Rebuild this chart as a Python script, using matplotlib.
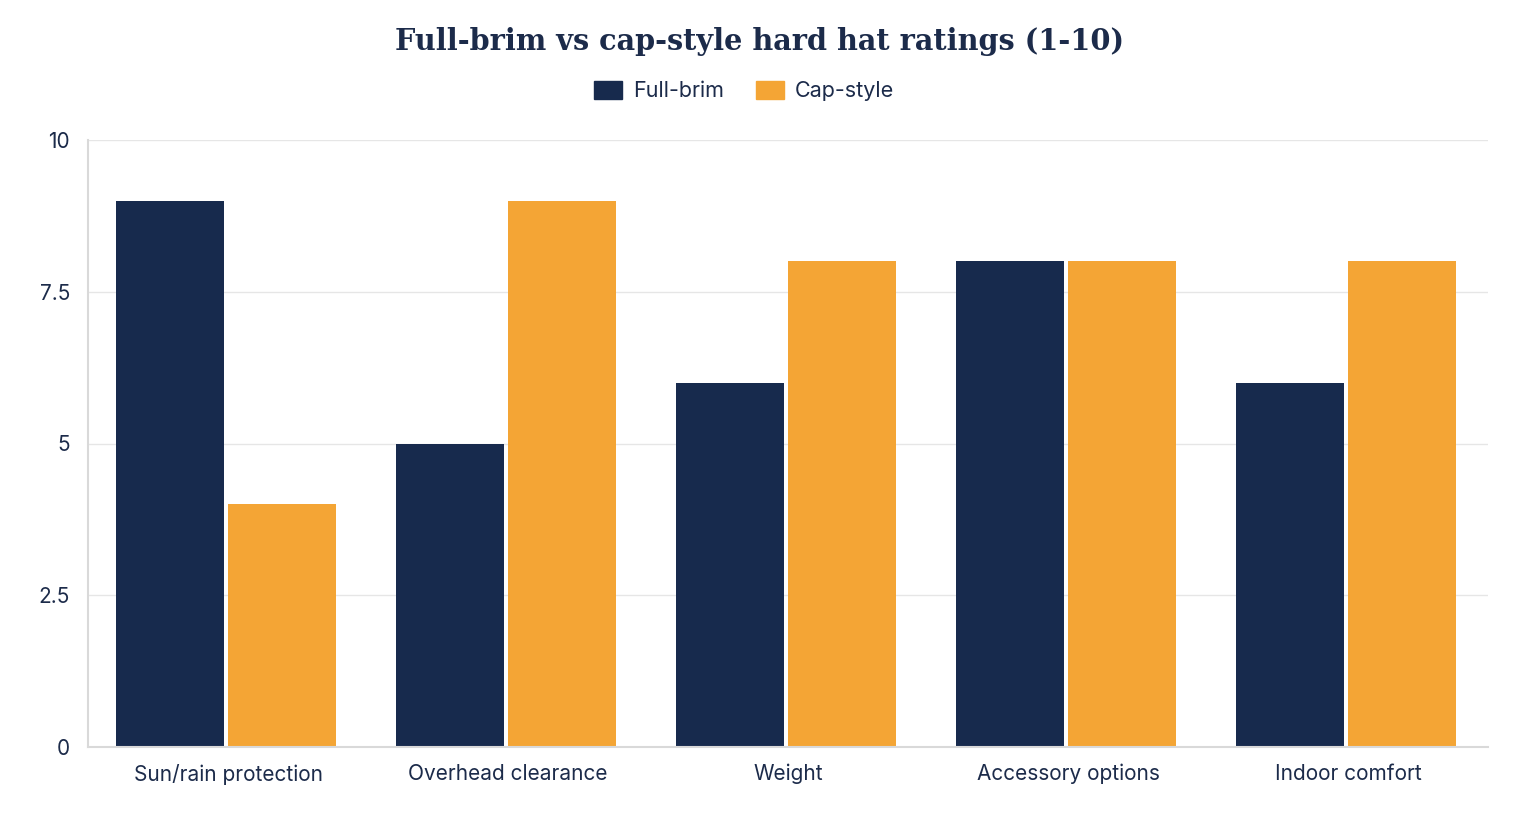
import numpy as np
import matplotlib.pyplot as plt
from matplotlib.patches import Patch

# Ratings per category
categories = ['Sun/rain protection', 'Overhead clearance', 'Weight',
              'Accessory options', 'Indoor comfort']
full_brim = [9, 5, 6, 8, 6]
cap_style = [4, 9, 8, 8, 8]
y_ticks = [0, 2.5, 5, 7.5, 10]
y_labels = ['0', '2.5', '5', '7.5', '10']

navy = '#172a4d'
orange = '#f4a535'
text_c = '#1c2b4a'
grid_c = '#e6e6e6'

plt.rcParams['font.family'] = ['Inter', 'DejaVu Sans']

fig = plt.figure(figsize=(15.2, 8.4), dpi=100)
ax = fig.add_axes([88/1520, 1-747/840, 1400/1520, 607/840])

x = np.arange(len(categories))
w = 108/280
ax.bar(x - 58/280, full_brim, width=w, color=navy, label='Full-brim', zorder=2)
ax.bar(x + 54/280, cap_style, width=w, color=orange, label='Cap-style', zorder=2)

ax.set_xlim(-0.5, len(categories) - 0.5)
ax.set_ylim(0, 10)
ax.set_yticks(y_ticks)
ax.set_yticklabels(y_labels)
ax.set_xticks(x)
ax.set_xticklabels(categories)
ax.tick_params(axis='both', length=0, labelsize=15, colors=text_c)
ax.tick_params(axis='y', pad=13)
ax.tick_params(axis='x', pad=12)
ax.yaxis.grid(True, color=grid_c, linewidth=1, zorder=0)
for s in ['top', 'right']:
    ax.spines[s].set_visible(False)
for s in ['left', 'bottom']:
    ax.spines[s].set_color('#d9d9d9')
    ax.spines[s].set_linewidth(1.5)

fig.text(0.5, 1-42/840, 'Full-brim vs cap-style hard hat ratings (1-10)',
         ha='center', va='center', fontsize=20.7, fontweight='bold',
         family=['DejaVu Serif'], color=text_c)

handles = [Patch(color=navy, label='Full-brim'), Patch(color=orange, label='Cap-style')]
fig.legend(handles=handles, loc='center', bbox_to_anchor=(0.4895, 1-91/840), ncol=2,
           frameon=False, fontsize=15.5, labelcolor=text_c, handlelength=1.3,
           handleheight=0.93, handletextpad=0.5, columnspacing=1.5)

fig.savefig('out.png', dpi=100, facecolor='white')
